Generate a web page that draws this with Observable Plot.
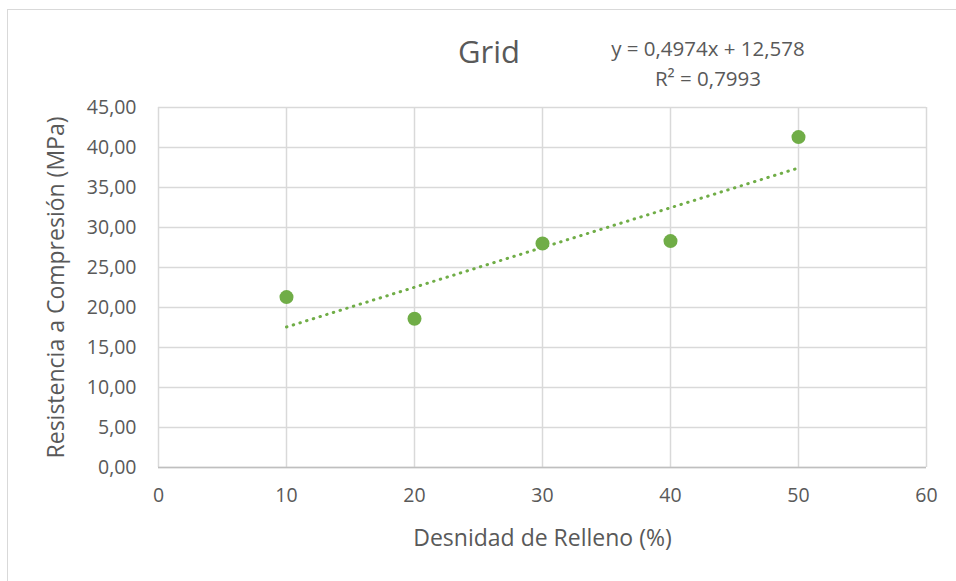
<!DOCTYPE html>
<html>
<head>
<meta charset="utf-8">
<script src="https://cdn.jsdelivr.net/npm/d3@7"></script>
<script src="https://cdn.jsdelivr.net/npm/@observablehq/plot@0.6"></script>
<style>
  html, body { margin: 0; padding: 0; background: #fff; }
  #wrap { position: relative; width: 956px; height: 581px; overflow: hidden; font-family: "Open Sans", "Noto Sans", sans-serif; color: #595959; }
  #border { position: absolute; left: 7px; top: 9px; width: 960px; height: 600px; border-left: 1.5px solid #d9d9d9; border-top: 1.5px solid #d9d9d9; box-sizing: border-box; }
  #chart { position: absolute; left: 0; top: 0; }
  .title { position: absolute; left: 389px; width: 200px; top: 30px; text-align: center; font-size: 31px; }
  .eq { position: absolute; left: 558px; width: 300px; text-align: center; font-size: 20.5px; }
</style>
</head>
<body>
<div id="wrap">
  <div id="border"></div>
  <div id="chart"></div>
  <div class="title">Grid</div>
  <div class="eq" style="top:34px">y = 0,4974x + 12,578</div>
  <div class="eq" style="top:64px">R² = 0,7993</div>
</div>
<script>
const density = [10, 20, 30, 40, 50];
const strength = [21.3, 18.6, 28.0, 28.3, 41.3];
const xTicks = [0, 10, 20, 30, 40, 50, 60];
const yTicks = [0, 5, 10, 15, 20, 25, 30, 35, 40, 45];

const data = density.map((d, i) => ({x: d, y: strength[i]}));
const comma = v => d3.format(".2f")(v).replace(".", ",");
const green = "#70ad47";
const grid = "#d9d9d9";

const plot = Plot.plot({
  width: 956,
  height: 581,
  marginLeft: 158,
  marginRight: 30,
  marginTop: 107,
  marginBottom: 114,
  style: {fontFamily: "'Open Sans', 'Noto Sans', sans-serif", color: "#595959", background: "transparent"},
  x: {domain: [0, 60], ticks: xTicks},
  y: {domain: [0, 45], ticks: yTicks},
  marks: [
    Plot.gridX(xTicks, {stroke: grid, strokeOpacity: 1, strokeWidth: 1.5}),
    Plot.gridY(yTicks, {stroke: grid, strokeOpacity: 1, strokeWidth: 1.5}),
    Plot.ruleY([0], {stroke: "#bfbfbf", strokeWidth: 1.5}),
    Plot.axisX(xTicks, {tickSize: 0, tickPadding: 21, fontSize: 19.5, fill: "#595959",
      label: "Desnidad de Relleno (%)", labelAnchor: "center", labelArrow: "none", labelOffset: 78}),
    Plot.axisY(yTicks, {tickSize: 0, tickPadding: 22, fontSize: 19.5, fill: "#595959", tickFormat: comma,
      label: "Resistencia a Compresión (MPa)", labelAnchor: "center", labelArrow: "none", labelOffset: 111}),
    Plot.linearRegressionY(data, {x: "x", y: "y", ci: 0, stroke: green, strokeWidth: 3,
      strokeDasharray: "0.5,6.5", strokeLinecap: "round"}),
    Plot.dot(data, {x: "x", y: "y", r: 7, fill: green, stroke: "none"})
  ]
});
document.getElementById("chart").appendChild(plot);
plot.querySelectorAll("g[aria-label='x-axis label'] text, g[aria-label='y-axis label'] text").forEach(t => {
  t.setAttribute("font-size", 23);
  t.style.fontSize = "23px";
});
</script>
</body>
</html>
